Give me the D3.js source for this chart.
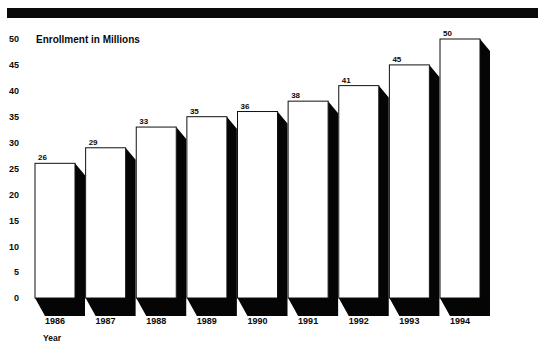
<!DOCTYPE html>
<html>
<head>
<meta charset="utf-8">
<script src="https://cdn.jsdelivr.net/npm/d3@7"></script>
<style>
  html, body { margin: 0; padding: 0; background: #fff; }
  svg { display: block; }
  text { font-family: "Liberation Sans", Arial, Helvetica, sans-serif; font-weight: bold; fill: #0a0a0a; }
</style>
</head>
<body>
<svg id="chart" width="538" height="342"></svg>
<script>
// Enrollment by year, in millions
const years = ["1986", "1987", "1988", "1989", "1990", "1991", "1992", "1993", "1994"];
const enrollment = [26, 29, 33, 35, 36, 38, 41, 45, 50];
const yTicks = [0, 5, 10, 15, 20, 25, 30, 35, 40, 45, 50];
const axisTitle = "Enrollment in Millions";
const xTitle = "Year";

const svg = d3.select("#chart");
const W = 538, H = 342;

const x = d3.scaleBand()
  .domain(years)
  .range([35, 480])
  .paddingInner(0.21)
  .paddingOuter(0);

const y = d3.scaleLinear()
  .domain([0, 50])
  .range([298, 39]);

// heavy rule across the top
svg.append("rect")
  .attr("x", 7).attr("y", 8)
  .attr("width", W - 7).attr("height", 10)
  .attr("fill", "#0a0a0a");

// vertical value axis: labels only
const yAxis = d3.axisLeft(y).tickValues(yTicks).tickSize(0).tickPadding(0);
const yg = svg.append("g").attr("transform", "translate(19,0)").call(yAxis);
yg.select(".domain").remove();
yg.selectAll("text")
  .attr("font-size", 9)
  .attr("font-family", null)
  .attr("fill", "#0a0a0a");

svg.append("text")
  .attr("x", 36).attr("y", y(50))
  .attr("dy", "0.35em")
  .attr("font-size", 10)
  .text(axisTitle);

// offsets of the dark extrusion
const dxTop = 10, dyTop = 12, dxBot = 10, dyBot = 18;

const bars = svg.append("g").selectAll("g.bar")
  .data(years.map((yr, i) => ({ year: yr, value: enrollment[i] })))
  .join("g").attr("class", "bar");

// shadow / extrusion polygon
bars.append("path")
  .attr("fill", "#050505")
  .attr("d", d => {
    const x0 = x(d.year), x1 = x0 + x.bandwidth();
    const yt = y(d.value), yb = y(0);
    return d3.line()([
      [x1, yt],
      [x1 + dxTop, yt + dyTop],
      [x1 + dxBot, yb + dyBot],
      [x0 + dxBot, yb + dyBot],
      [x0, yb],
      [x1, yb]
    ]) + "Z";
  });

// white front face
bars.append("rect")
  .attr("x", d => x(d.year))
  .attr("y", d => y(d.value))
  .attr("width", x.bandwidth())
  .attr("height", d => y(0) - y(d.value))
  .attr("fill", "#fff")
  .attr("stroke", "#111")
  .attr("stroke-width", 1);

// value labels above each bar
bars.append("text")
  .attr("x", d => x(d.year) + 3)
  .attr("y", d => y(d.value) - 3)
  .attr("font-size", 8)
  .text(d => d.value);

// category axis: labels only
const xAxis = d3.axisBottom(x).tickSize(0).tickPadding(0);
const xg = svg.append("g").attr("transform", "translate(0,318)").call(xAxis);
xg.select(".domain").remove();
xg.selectAll("text")
  .attr("font-size", 9)
  .attr("font-family", null)
  .attr("fill", "#0a0a0a");

svg.append("text")
  .attr("x", 43).attr("y", 341)
  .attr("font-size", 8.5)
  .text(xTitle);
</script>
</body>
</html>
